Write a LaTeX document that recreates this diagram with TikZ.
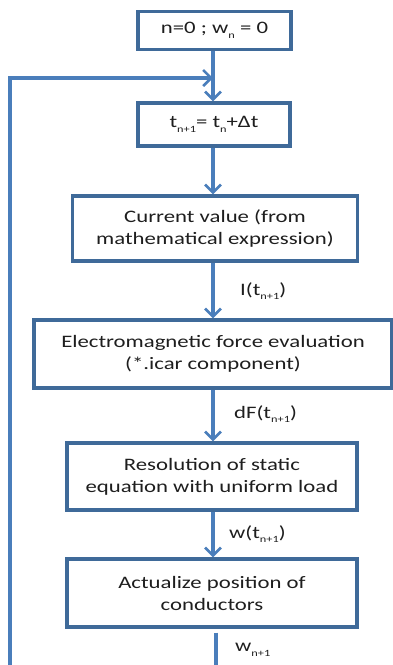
\documentclass[tikz,border=0pt]{standalone}
\usepackage{fontspec}
\setmainfont[FakeStretch=1.3]{Carlito}
\usetikzlibrary{arrows.meta}
\definecolor{boxblue}{HTML}{3F6A99}
\definecolor{arrblue}{HTML}{4A7EBB}
\definecolor{txt}{HTML}{1E1E1E}
\newcommand{\lowsub}[1]{\raisebox{-0.55ex}{\fontsize{9.5}{10}\selectfont #1}}
\begin{document}
\begin{tikzpicture}[x=1pt,y=-1pt,
  every node/.style={font=\fontsize{17.5}{22}\selectfont, text=txt},
  flowbox/.style={draw=boxblue, line width=3.2pt, fill=white, align=center, inner sep=0pt},
  conn/.style={draw=arrblue, line width=3.2pt, -{Straight Barb[length=8pt,width=16pt,line width=2.6pt]}},
  plain/.style={draw=arrblue, line width=3.2pt},
  lbl/.style={anchor=west, inner sep=0pt}]
\useasboundingbox (0,0) rectangle (393,665);
\node[flowbox, minimum width=153pt, minimum height=38pt] (b1) at (214.5,30.5) {n=0 ; w\lowsub{n} = 0};
\node[flowbox, minimum width=152pt, minimum height=43pt] (b2) at (214,124.5) {t\lowsub{n+1}= t\lowsub{n}+Δt};
\node[flowbox, minimum width=285pt, minimum height=65pt] (b3) at (215,228.5) {Current value (from\\mathematical expression)};
\node[flowbox, minimum width=358pt, minimum height=68pt] (b4) at (213,354) {Electromagnetic force evaluation\\(*.icar component)};
\node[flowbox, minimum width=290pt, minimum height=67pt] (b5) at (212,476.5) {Resolution of static\\equation with uniform load};
\node[flowbox, minimum width=290pt, minimum height=68pt] (b6) at (212,593) {Actualize position of\\conductors};
\coordinate (merge) at (213,78);
\coordinate (loopstart) at (10,668);
\coordinate (loopcorner) at (10,78);
\coordinate (bottom) at (216,670);
\draw[plain] (b1.south -| merge) -- (merge);
\draw[conn] (merge) -- (b2.north -| merge);
\draw[conn] (loopstart) -- (loopcorner) -- (merge);
\draw[conn] (b2.south -| merge) -- (b3.north -| merge);
\draw[conn] (b3.south -| merge) -- (b4.north -| merge);
\draw[conn] (b4.south -| merge) -- (b5.north -| merge);
\draw[conn] (b5.south -| merge) -- (b6.north -| merge);
\draw[plain] ([yshift=-4pt]b6.south -| bottom) -- (bottom);
\node[lbl] (l1) at (240,291) {I(t\lowsub{n+1})};
\node[lbl] (l2) at (234,414) {dF(t\lowsub{n+1})};
\node[lbl] (l3) at (229,534) {w(t\lowsub{n+1})};
\node[lbl] (l4) at (235,650) {w\lowsub{n+1}};
\end{tikzpicture}
\end{document}
